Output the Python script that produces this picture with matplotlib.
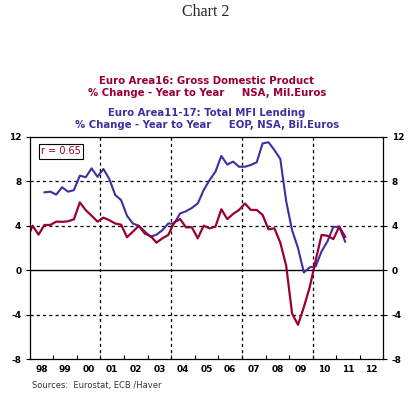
import matplotlib.pyplot as plt
import numpy as np

# GDP, % change y/y, quarterly from 1997Q4
gdp = [2.8,
       4.0, 3.2, 4.07, 4.07,
       4.37, 4.35, 4.4, 4.58,
       6.1, 5.4, 4.9, 4.37,
       4.73, 4.5, 4.2, 4.1,
       2.97, 3.47, 4.0, 3.3,
       3.08, 2.48, 2.87, 3.17,
       4.3, 4.6, 3.86, 3.86,
       2.87, 4.0, 3.77, 3.92,
       5.48, 4.6, 5.06, 5.42,
       6.0, 5.42, 5.42, 4.97,
       3.68, 3.77, 2.48, 0.4,
       -3.9, -4.9, -3.3, -1.5,
       0.9, 3.17, 3.1, 2.8,
       3.92, 3.0]

# MFI lending, % change y/y, quarterly from 1998Q3
lending = [7.0, 7.06,
           6.8, 7.46, 7.06, 7.2,
           8.5, 8.36, 9.16, 8.4,
           9.1, 8.2, 6.77, 6.3,
           4.9, 4.2, 4.0, 3.5,
           3.0, 3.2, 3.6, 4.2,
           4.2, 5.1, 5.3, 5.6,
           6.0, 7.2, 8.1, 8.86,
           10.27, 9.5, 9.76, 9.3,
           9.3, 9.46, 9.7, 11.4,
           11.5, 10.8, 10.0, 6.2,
           3.6, 2.0, -0.2, 0.27,
           0.35, 1.7, 2.6, 3.9,
           3.9, 2.57]

gdp_x = 1997.875 + 0.25 * np.arange(len(gdp))
lend_x = 1998.625 + 0.25 * np.arange(len(lending))

years = np.arange(1998, 2013)
year_labels = ['%02d' % (y % 100) for y in years]
yticks = [-8, -4, 0, 4, 8, 12]

red = '#990033'
blue = '#3f2f9f'

fig = plt.figure(figsize=(4.12, 3.95), dpi=100)
ax = fig.add_axes([0.0721, 0.0904, 0.8587, 0.5635])

for yy in [8, 4, -4]:
    ax.axhline(yy, color='black', lw=0.9, ls=(0, (2.5, 2.5)))
for xx in [2001, 2004, 2007, 2010]:
    ax.axvline(xx, color='black', lw=0.9, ls=(0, (2.5, 2.5)))
ax.axhline(0, color='black', lw=1.0)

ax.plot(lend_x, lending, color=blue, lw=1.5)
ax.plot(gdp_x, gdp, color=red, lw=1.6)

ax.set_xlim(1998, 2013)
ax.set_ylim(-8, 12)

ax.set_xticks(np.arange(1998, 2014), labels=[])
ax.set_xticks(years + 0.5, labels=year_labels, minor=True)
ax.tick_params(axis='x', which='major', direction='in', length=3, width=0.8)
ax.tick_params(axis='x', which='minor', length=0, pad=4)
for lab in ax.get_xticklabels(minor=True):
    lab.set_fontsize(6.5)
    lab.set_fontweight('bold')

ax.set_yticks(yticks, labels=[str(v) for v in yticks])
ax.tick_params(axis='y', direction='out', length=3, width=0.8,
               left=True, right=True, labelleft=True, labelright=True,
               labelsize=6.5, pad=3)
for lab in ax.get_yticklabels():
    lab.set_fontweight('bold')
for sp in ax.spines.values():
    sp.set_linewidth(0.9)

ax.text(0.032, 0.935, 'r = 0.65', transform=ax.transAxes, fontsize=7,
        color=red, va='center', ha='left',
        bbox=dict(boxstyle='square,pad=0.25', fc='white', ec='black', lw=0.8))

fig.text(0.5, 0.97, 'Chart 2', ha='center', va='center',
         family='Liberation Serif', fontsize=11.5, color='#222222')
fig.text(0.502, 0.795, 'Euro Area16: Gross Domestic Product', ha='center',
         va='center', fontsize=7.3, fontweight='bold', color=red)
fig.text(0.502, 0.764, '% Change - Year to Year     NSA, Mil.Euros', ha='center',
         va='center', fontsize=7.3, fontweight='bold', color=red)
fig.text(0.502, 0.715, 'Euro Area11-17: Total MFI Lending', ha='center',
         va='center', fontsize=7.3, fontweight='bold', color=blue)
fig.text(0.502, 0.684, '% Change - Year to Year     EOP, NSA, Bil.Euros', ha='center',
         va='center', fontsize=7.3, fontweight='bold', color=blue)
fig.text(0.077, 0.025, 'Sources:  Eurostat, ECB /Haver', ha='left',
         va='center', fontsize=6, color='#333333')

fig.savefig('out.png', dpi=100)
